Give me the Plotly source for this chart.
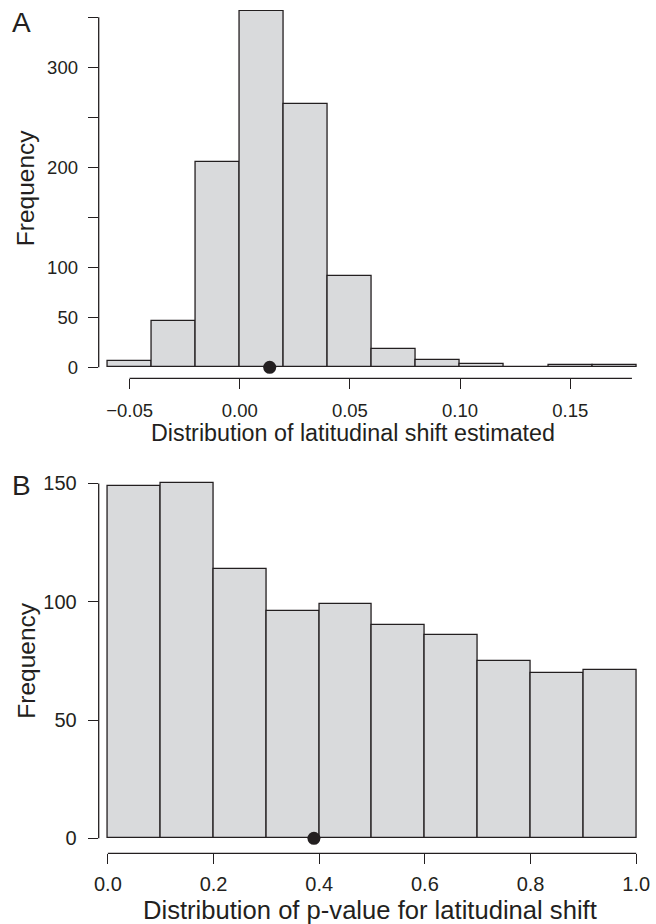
import plotly.graph_objects as go

# ---------------- data ----------------
a_bin_edges = [-0.06, -0.04, -0.02, 0.00, 0.02, 0.04, 0.06, 0.08, 0.10, 0.12, 0.14, 0.16, 0.18]
a_counts = [6, 46, 205, 356, 263, 91, 18, 7, 3, 0, 2, 2]
a_observed = 0.0136
a_xticks = [-0.05, 0.00, 0.05, 0.10, 0.15]
a_xticklabels = ["\u22120.05", "0.00", "0.05", "0.10", "0.15"]
a_yticks = [0, 50, 100, 150, 200, 250, 300, 350]
a_yticklabels = ["0", "50", "100", "", "200", "", "300", ""]

b_bin_edges = [0.0, 0.1, 0.2, 0.3, 0.4, 0.5, 0.6, 0.7, 0.8, 0.9, 1.0]
b_counts = [149, 150, 114, 96, 99, 90, 86, 75, 70, 71]
b_observed = 0.39
b_xticks = [0.0, 0.2, 0.4, 0.6, 0.8, 1.0]
b_xticklabels = ["0.0", "0.2", "0.4", "0.6", "0.8", "1.0"]
b_yticks = [0, 50, 100, 150]
b_yticklabels = ["0", "50", "100", "150"]

# ---------------- style / layout constants ----------------
W, H = 656, 924
INK = "#231f20"
FILL = "#d9dadc"
FONT = "Liberation Sans, Arial, Helvetica, sans-serif"


def px(x):
    return x / W


def py(y):
    return 1 - y / H


def centers(edges):
    return [(edges[i] + edges[i + 1]) / 2 for i in range(len(edges) - 1)]


def widths(edges):
    return [edges[i + 1] - edges[i] for i in range(len(edges) - 1)]


fig = go.Figure()

fig.add_trace(go.Bar(x=centers(a_bin_edges), y=a_counts, width=widths(a_bin_edges),
                     marker=dict(color=FILL, line=dict(color=INK, width=1.3)),
                     xaxis="x", yaxis="y", showlegend=False, hoverinfo="skip"))
fig.add_trace(go.Scatter(x=[a_observed], y=[0], mode="markers",
                         marker=dict(color=INK, size=13, line=dict(width=0)),
                         cliponaxis=False, xaxis="x", yaxis="y", showlegend=False))

fig.add_trace(go.Bar(x=centers(b_bin_edges), y=b_counts, width=widths(b_bin_edges),
                     marker=dict(color=FILL, line=dict(color=INK, width=1.3)),
                     xaxis="x2", yaxis="y2", showlegend=False, hoverinfo="skip"))
fig.add_trace(go.Scatter(x=[b_observed], y=[0], mode="markers",
                         marker=dict(color=INK, size=13, line=dict(width=0)),
                         cliponaxis=False, xaxis="x2", yaxis="y2", showlegend=False))

# pixel geometry of panels
A_L, A_R, A_B, A_T = 95, 650, 378.3, 10
A_X0, A_XPPU = 238.0, 111.7 / 0.05
A_Y0, A_YPPU = 367.3, 1.0
B_L, B_R, B_B, B_T = 95, 650, 853.3, 470
B_X0, B_XPPU = 104.3, 535.7
B_Y0, B_YPPU = 838.3, 118.3 / 50

tick_common = dict(ticks="outside", ticklen=10, tickwidth=1.3, tickcolor=INK,
                   showline=False, showgrid=False, zeroline=False,
                   fixedrange=True)

fig.update_layout(
    width=W, height=H,
    margin=dict(l=0, r=0, t=0, b=0),
    paper_bgcolor="white", plot_bgcolor="white",
    font=dict(family=FONT, color=INK),
    bargap=0,
    xaxis=dict(domain=[px(A_L), px(A_R)], anchor="y",
               range=[(A_L - A_X0) / A_XPPU, (A_R - A_X0) / A_XPPU],
               tickvals=a_xticks, ticktext=a_xticklabels,
               tickfont=dict(size=18.5, family=FONT, color=INK),
               ticklabelstandoff=5, **tick_common),
    yaxis=dict(domain=[py(A_B), py(A_T)], anchor="x",
               range=[(A_Y0 - A_B) / A_YPPU, (A_Y0 - A_T) / A_YPPU],
               tickvals=a_yticks, ticktext=a_yticklabels,
               tickfont=dict(size=18.5, family=FONT, color=INK),
               ticklabelstandoff=6, **tick_common),
    xaxis2=dict(domain=[px(B_L), px(B_R)], anchor="y2",
                range=[(B_L - B_X0) / B_XPPU, (B_R - B_X0) / B_XPPU],
                tickvals=b_xticks, ticktext=b_xticklabels,
                tickfont=dict(size=20, family=FONT, color=INK),
                ticklabelstandoff=3, **tick_common),
    yaxis2=dict(domain=[py(B_B), py(B_T)], anchor="x2",
                range=[(B_Y0 - B_B) / B_YPPU, (B_Y0 - B_T) / B_YPPU],
                tickvals=b_yticks, ticktext=b_yticklabels,
                tickfont=dict(size=20, family=FONT, color=INK),
                ticklabelstandoff=7, **tick_common),
)

line_style = dict(color=INK, width=1.3)
shapes = [
    # panel A axis lines
    dict(type="line", xref="x", yref="y domain", x0=a_xticks[0], x1=0.178, y0=0, y1=0, line=line_style),
    dict(type="line", xref="x domain", yref="y", x0=0, x1=0, y0=a_yticks[0], y1=a_yticks[-1], line=line_style),
    # panel B axis lines
    dict(type="line", xref="x2", yref="y2 domain", x0=b_xticks[0], x1=b_xticks[-1], y0=0, y1=0, line=line_style),
    dict(type="line", xref="x2 domain", yref="y2", x0=0, x1=0, y0=b_yticks[0], y1=b_yticks[-1], line=line_style),
]
fig.update_layout(shapes=shapes)

ann = []
ann.append(dict(text="A", x=px(5), y=py(22), xref="paper", yref="paper",
                xanchor="left", yanchor="middle", showarrow=False,
                font=dict(size=28, family=FONT, color=INK)))
ann.append(dict(text="B", x=px(5), y=py(485.5), xref="paper", yref="paper",
                xanchor="left", yanchor="middle", showarrow=False,
                font=dict(size=28, family=FONT, color=INK)))
ann.append(dict(text="Frequency", x=px(21), y=py(187.5), xref="paper", yref="paper",
                xanchor="center", yanchor="middle", textangle=-90, showarrow=False,
                font=dict(size=24.5, family=FONT, color=INK)))
ann.append(dict(text="Frequency", x=px(21), y=py(660), xref="paper", yref="paper",
                xanchor="center", yanchor="middle", textangle=-90, showarrow=False,
                font=dict(size=24.5, family=FONT, color=INK)))
ann.append(dict(text="Distribution of latitudinal shift estimated", x=px(146), y=py(433),
                xref="paper", yref="paper", xanchor="left", yanchor="middle", showarrow=False,
                font=dict(size=23.3, family=FONT, color=INK)))
ann.append(dict(text="Distribution of p-value for latitudinal shift", x=px(138), y=py(910),
                xref="paper", yref="paper", xanchor="left", yanchor="middle", showarrow=False,
                font=dict(size=25.6, family=FONT, color=INK)))
fig.update_layout(annotations=ann)

fig.write_html("out.html")
